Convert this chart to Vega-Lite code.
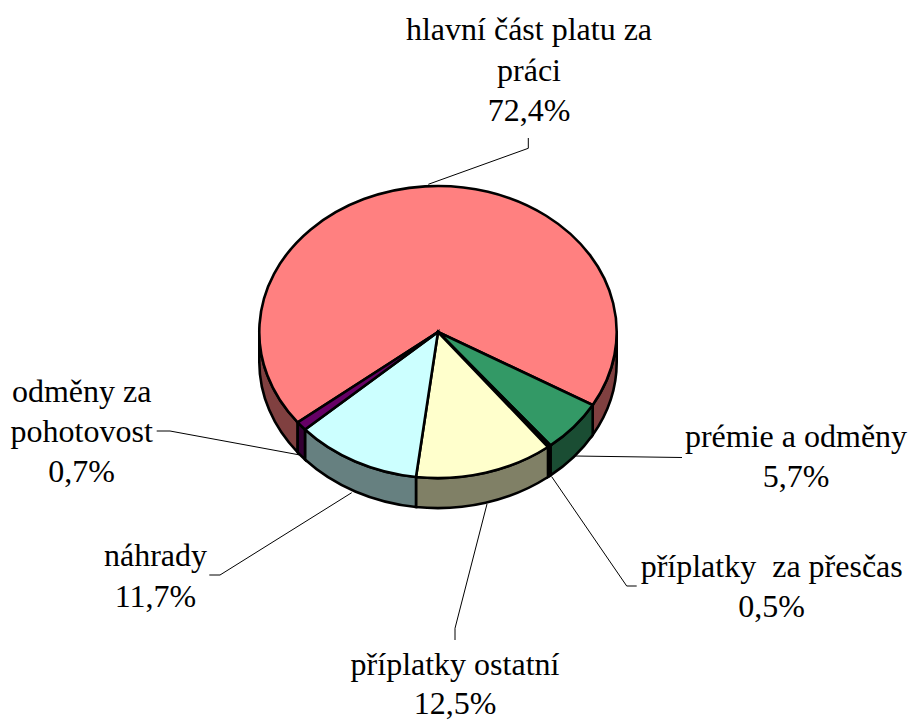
{"$schema":"https://vega.github.io/schema/vega-lite/v6.json","width":876,"height":664,"autosize":"none","padding":{"left":0,"top":0,"right":32,"bottom":58},"background":"white","view":{"stroke":null},"data":{"values":[
{"slice":"hlavní část platu za práci","value":72.4,"label":"hlavní část platu za\npráci\n72,4%"},
{"slice":"prémie a odměny","value":5.7,"label":"prémie a odměny\n5,7%"},
{"slice":"příplatky za přesčas","value":0.5,"label":"příplatky\u00a0 za přesčas\n0,5%"},
{"slice":"příplatky ostatní","value":12.5,"label":"příplatky ostatní\n12,5%"},
{"slice":"náhrady","value":11.7,"label":"náhrady\n11,7%"},
{"slice":"odměny za pohotovost","value":0.7,"label":"odměny za\npohotovost\n0,7%"}
]},
"layer":[
{"mark":{"type":"point","size":4,"filled":false,"fill":"transparent","stroke":"#000000","strokeWidth":1,"opacity":1},
"encoding":{"shape":{"field":"slice","type":"nominal","legend":null,"scale":{"domain":["hlavní část platu za práci","prémie a odměny","příplatky za přesčas","příplatky ostatní","náhrady","odměny za pohotovost"],"range":["M90.3 -194L90.3 -183.7L-9.7 -147.7","M137 124L244 125.5","M113.7 144.7L188.7 254L198.7 254","M49 172L17 296.3L17 308","M-86.3 160.7L-218 243L-228.7 243","M-138 123L-268 99L-281.3 99"]}}}},
{"mark":{"type":"point","size":4,"filled":true,"stroke":"#000000","strokeWidth":2.6,"opacity":1},
"encoding":{"shape":{"field":"slice","type":"nominal","legend":null,"scale":{"domain":["hlavní část platu za práci","prémie a odměny","příplatky za přesčas","příplatky ostatní","náhrady","odměny za pohotovost"],"range":["M-178.7 0A178.7 146 0 0 0 -140.3 90.4L-140.3 120.4A178.7 146 0 0 1 -178.7 30ZM178.7 0A178.7 146 0 0 1 154.7 73L154.7 103A178.7 146 0 0 0 178.7 30Z","M154.7 73A178.7 146 0 0 1 112.5 113.4L112.5 143.4A178.7 146 0 0 0 154.7 103Z","M112.5 113.4A178.7 146 0 0 1 110 115L110 145A178.7 146 0 0 0 112.5 143.4Z","M110 115A178.7 146 0 0 1 -22 145L-22 175A178.7 146 0 0 0 110 145Z","M-22 145A178.7 146 0 0 1 -133 97.5L-133 127.5A178.7 146 0 0 0 -22 175Z","M-133 97.5A178.7 146 0 0 1 -140.3 90.4L-140.3 120.4A178.7 146 0 0 0 -133 127.5Z"]}},
"fill":{"field":"slice","type":"nominal","legend":null,"scale":{"domain":["hlavní část platu za práci","prémie a odměny","příplatky za přesčas","příplatky ostatní","náhrady","odměny za pohotovost"],"range":["#804040","#1A4D33","#000000","#808066","#668080","#330033"]}}}},
{"mark":{"type":"point","size":4,"filled":true,"stroke":"#000000","strokeWidth":2.6,"opacity":1},
"encoding":{"shape":{"field":"slice","type":"nominal","legend":null,"scale":{"domain":["hlavní část platu za práci","prémie a odměny","příplatky za přesčas","příplatky ostatní","náhrady","odměny za pohotovost"],"range":["M0 0L-140.3 90.4A178.7 146 0 1 1 154.7 73Z","M0 0L154.7 73A178.7 146 0 0 1 112.5 113.4Z","M0 0L112.5 113.4A178.7 146 0 0 1 110 115Z","M0 0L110 115A178.7 146 0 0 1 -22 145Z","M0 0L-22 145A178.7 146 0 0 1 -133 97.5Z","M0 0L-133 97.5A178.7 146 0 0 1 -140.3 90.4Z"]}},
"fill":{"field":"slice","type":"nominal","legend":null,"scale":{"domain":["hlavní část platu za práci","prémie a odměny","příplatky za přesčas","příplatky ostatní","náhrady","odměny za pohotovost"],"range":["#FF8080","#339966","#000000","#FFFFCC","#CCFFFF","#660066"]}}}},
{"transform":[{"filter":"datum.value==72.4"}],"mark":{"type":"text","font":"Liberation Serif","fontSize":32,"lineBreak":"\n","lineHeight":40.5,"align":"center","baseline":"alphabetic","color":"#000000","dx":91,"dy":-292},"encoding":{"text":{"field":"label"}}},
{"transform":[{"filter":"datum.value==5.7"}],"mark":{"type":"text","font":"Liberation Serif","fontSize":32,"lineBreak":"\n","lineHeight":40.5,"align":"center","baseline":"alphabetic","color":"#000000","dx":358,"dy":114.7},"encoding":{"text":{"field":"label"}}},
{"transform":[{"filter":"datum.value==0.5"}],"mark":{"type":"text","font":"Liberation Serif","fontSize":32,"lineBreak":"\n","lineHeight":40.5,"align":"center","baseline":"alphabetic","color":"#000000","dx":333.7,"dy":244.5},"encoding":{"text":{"field":"label"}}},
{"transform":[{"filter":"datum.value==12.5"}],"mark":{"type":"text","font":"Liberation Serif","fontSize":32,"lineBreak":"\n","lineHeight":39,"align":"center","baseline":"alphabetic","color":"#000000","dx":17,"dy":343},"encoding":{"text":{"field":"label"}}},
{"transform":[{"filter":"datum.value==11.7"}],"mark":{"type":"text","font":"Liberation Serif","fontSize":32,"lineBreak":"\n","lineHeight":40.5,"align":"center","baseline":"alphabetic","color":"#000000","dx":-282.5,"dy":234},"encoding":{"text":{"field":"label"}}},
{"transform":[{"filter":"datum.value==0.7"}],"mark":{"type":"text","font":"Liberation Serif","fontSize":32,"lineBreak":"\n","lineHeight":40,"align":"center","baseline":"alphabetic","color":"#000000","dx":-356.3,"dy":69.7},"encoding":{"text":{"field":"label"}}}
],
"resolve":{"scale":{"shape":"independent","fill":"independent"}}}
